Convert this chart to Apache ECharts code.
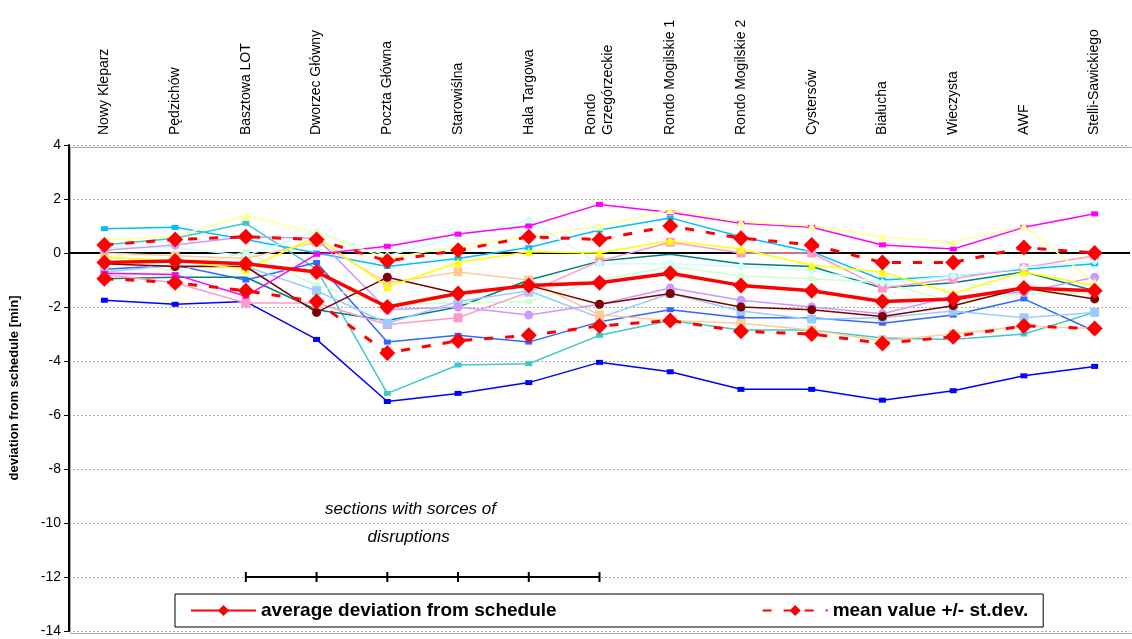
<!DOCTYPE html><html><head><meta charset="utf-8"><script src="https://cdn.jsdelivr.net/npm/echarts@6/dist/echarts.min.js"></script></head><body style="margin:0"><div id="c" style="width:1132px;height:639px"></div><script>
const categories=['Nowy Kleparz','Pędzichów','Basztowa LOT','Dworzec Główny','Poczta Główna','Starowiślna','Hala Targowa','Rondo\nGrzegórzeckie','Rondo Mogilskie 1','Rondo Mogilskie 2','Cystersów','Białucha','Wieczysta','AWF','Stelli-Sawickiego'];
const avg=[-0.35,-0.3,-0.4,-0.7,-2.0,-1.5,-1.2,-1.1,-0.75,-1.2,-1.4,-1.8,-1.7,-1.3,-1.4];
const meanPlus=[0.3,0.5,0.6,0.5,-0.3,0.1,0.6,0.5,1.0,0.55,0.3,-0.35,-0.35,0.2,0.0];
const meanMinus=[-0.95,-1.1,-1.4,-1.8,-3.7,-3.25,-3.05,-2.7,-2.5,-2.9,-3.0,-3.35,-3.1,-2.7,-2.8];
const disruption=[null,null,-12,-12,-12,-12,-12,-12,null,null,null,null,null,null,null];
const runs=[
 {c:'#FF00FF',s:'rect',z:9,d:[-0.75,-0.8,-1.6,-0.05,0.25,0.7,1.0,1.8,1.5,1.1,0.95,0.3,0.15,0.95,1.45]},
 {c:'#FFFF99',s:'triangle',z:9,d:[0.5,0.6,1.4,0.75,-0.2,0.25,0.6,1.0,1.6,1.15,1.0,0.6,0.4,1.0,-1.1]},
 {c:'#00BFFF',s:'rect',z:5,d:[0.9,0.95,0.5,0.0,-0.5,-0.2,0.2,0.85,1.3,0.6,0.05,-1.0,-0.85,-0.6,-0.4]},
 {c:'#40C8C8',s:'rect',z:5,d:[0.3,0.55,1.1,-0.6,-5.2,-4.15,-4.1,-3.05,-2.5,-2.85,-2.85,-3.15,-3.2,-3.0,-2.2]},
 {c:'#0000FF',s:'rect',z:5,d:[-1.75,-1.9,-1.8,-3.2,-5.5,-5.2,-4.8,-4.05,-4.4,-5.05,-5.05,-5.45,-5.1,-4.55,-4.2]},
 {c:'#3366FF',s:'rect',z:5,d:[-0.6,-0.45,-1.0,-0.35,-3.3,-3.05,-3.3,-2.55,-2.1,-2.4,-2.4,-2.6,-2.3,-1.7,-2.9]},
 {c:'#800000',s:'circle',z:8,d:[-0.4,-0.5,-0.5,-2.2,-0.9,-1.5,-1.2,-1.9,-1.5,-2.0,-2.1,-2.35,-1.95,-1.3,-1.7]},
 {c:'#008080',s:'none',z:5,d:[-0.95,-0.9,-0.9,-2.1,-2.5,-2.0,-1.0,-0.3,-0.05,-0.4,-0.5,-1.3,-1.1,-0.7,-1.4]},
 {c:'#FFFF00',s:'triangle',z:8,d:[-0.15,-0.3,-0.6,0.6,-1.25,-0.35,0.05,0.0,0.45,0.15,-0.45,-0.7,-1.5,-0.7,-1.2]},
 {c:'#CCFFCC',s:'rect',z:6,d:[-0.1,-0.7,0.05,-1.2,-1.9,-1.85,-1.8,-1.0,-0.5,-0.85,-0.95,-1.1,-1.8,-1.5,-1.5]},
 {c:'#CC99FF',s:'circle',z:7,d:[0.1,0.3,0.6,0.55,-2.1,-2.0,-2.3,-1.9,-1.3,-1.75,-2.0,-2.25,-1.6,-1.45,-0.9]},
 {c:'#FF99CC',s:'star',z:6,d:[-0.8,-1.1,-1.85,-1.85,-2.65,-2.4,-1.45,-0.3,0.4,0.0,0.0,-1.3,-0.95,-0.55,-0.1]},
 {c:'#99CCFF',s:'star',z:6,d:[-0.7,-0.45,-0.5,-1.4,-2.6,-1.8,-1.4,-2.4,-1.5,-2.15,-2.45,-2.4,-2.15,-2.4,-2.2]},
 {c:'#FFCC99',s:'star',z:6,d:[0.0,-0.1,-0.2,0.4,-1.1,-0.7,-1.0,-2.3,-2.5,-2.6,-2.85,-3.25,-3.0,-2.7,-2.8]},
 {c:'#CCFFFF',s:'diamond',z:6,d:[0.2,0.2,-0.1,0.8,-0.1,0.6,1.2,-0.4,-0.4,-0.5,-0.65,-1.1,-0.85,-0.55,-0.3]}
];
const series=runs.map((r,i)=>({type:'line',name:'run'+i,data:r.d,z:r.z,symbol:r.s,symbolSize:r.s==='rect'?[7,5]:9,lineStyle:{color:r.c,width:1.5},itemStyle:{color:r.c}}));
series[0].markLine={silent:true,symbol:'none',label:{show:false},lineStyle:{color:'#000',width:2,type:'solid'},data:[{yAxis:0}]};
series.push({type:'line',name:'mean value +/- st.dev.',data:meanPlus,z:12,symbol:'diamond',symbolSize:16,lineStyle:{color:'#FF0000',width:3,type:[9,12]},itemStyle:{color:'#FF0000'}});
series.push({type:'line',name:'mean value +/- st.dev.',data:meanMinus,z:12,symbol:'diamond',symbolSize:16,lineStyle:{color:'#FF0000',width:3,type:[9,12]},itemStyle:{color:'#FF0000'}});
series.push({type:'line',name:'average deviation from schedule',data:avg,z:13,symbol:'diamond',symbolSize:16,lineStyle:{color:'#FF0000',width:3.5},itemStyle:{color:'#FF0000'}});
series.push({type:'line',name:'dis',data:disruption,z:14,symbol:'rect',symbolSize:[2,10],lineStyle:{color:'#000',width:2},itemStyle:{color:'#000'}});
const chart=echarts.init(document.getElementById('c'));
chart.setOption({animation:false,
 grid:{left:68,right:2,top:145,bottom:8},
 xAxis:{type:'category',data:categories,position:'top',boundaryGap:true,axisLine:{show:false},axisTick:{show:false},
   axisLabel:{rotate:90,interval:0,color:'#000',fontSize:14,fontFamily:'Liberation Sans',margin:10,lineHeight:17}},
 yAxis:{type:'value',min:-14,max:4,interval:2,name:'deviation from schedule [min]',nameLocation:'middle',nameGap:48,nameTextStyle:{fontWeight:'bold',fontSize:13,fontFamily:'Liberation Sans',color:'#000'},
   axisLine:{show:true,lineStyle:{color:'#000',width:2}},axisTick:{show:true,lineStyle:{color:'#000'}},axisLabel:{color:'#000',fontSize:14,fontFamily:'Liberation Sans'},
   splitLine:{lineStyle:{color:'#aaa',type:[2,2]}}},
 legend:{data:['average deviation from schedule','mean value +/- st.dev.'],left:175,bottom:12,itemGap:205,itemWidth:65,itemHeight:14,padding:[7,15,7,15],
   borderColor:'#000',borderWidth:1,backgroundColor:'#fff',textStyle:{fontWeight:'bold',fontSize:19,fontFamily:'Liberation Sans',color:'#000'}},
 graphic:[{type:'rect',left:68,top:145,shape:{width:1062,height:486},style:{fill:'none',stroke:'#aaa'},silent:true},
  {type:'text',left:325,top:495,style:{text:'sections with sorces of\n         disruptions',font:'italic 17px Liberation Sans',fill:'#000',lineHeight:28}}],
 series:series});
</script></body></html>
